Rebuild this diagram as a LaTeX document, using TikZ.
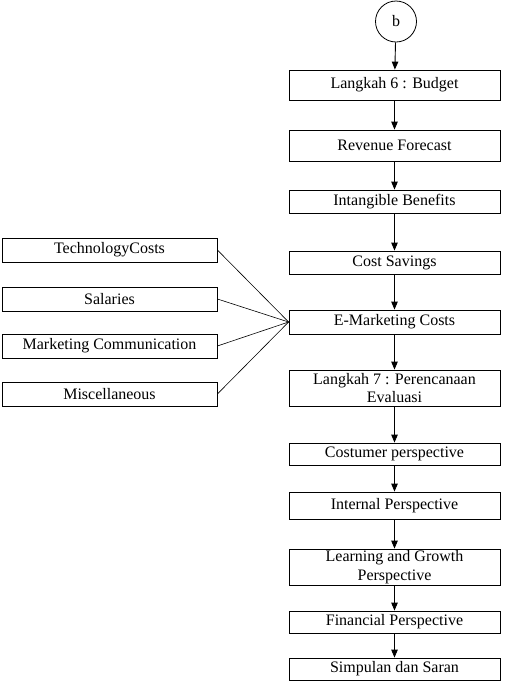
\documentclass[tikz,border=0pt]{standalone}
\usepackage{fontspec}
\setmainfont{Liberation Serif}
\usetikzlibrary{arrows.meta}
\begin{document}
\begin{tikzpicture}[x=1pt,y=-1pt,
  box/.style={draw,line width=0.8pt,inner sep=0pt,minimum width=211pt,align=center,font=\fontsize{16}{18.5}\selectfont},
  lbox/.style={draw,line width=0.8pt,inner sep=0pt,minimum width=215pt,minimum height=24pt,font=\fontsize{16}{18.5}\selectfont},
  arr/.style={line width=0.9pt,-{Triangle[length=8pt,width=6.5pt]}},
  thin/.style={line width=0.6pt}]
\useasboundingbox (0,0) rectangle (506,683);
\node[draw,circle,line width=0.8pt,minimum size=41pt,inner sep=0pt,font=\fontsize{16}{18.5}\selectfont] (c) at (396,21.5) {b};
\node[box,minimum height=30pt] (b1) at (394.5,85) {Langkah 6 : Budget};
\node[box,minimum height=31pt] (b2) at (394.5,145.5) {Revenue Forecast};
\node[box,minimum height=23pt] (b3) at (394.5,201.5) {Intangible Benefits};
\node[box,minimum height=23pt] (b4) at (394.5,262.5) {Cost Savings};
\node[box,minimum height=24pt] (b5) at (394.5,322) {E-Marketing Costs};
\node[box,minimum height=36pt] (b6) at (394.5,388) {Langkah 7 : Perencanaan\\Evaluasi};
\node[box,minimum height=22pt] (b7) at (394.5,454) {Costumer perspective};
\node[box,minimum height=27pt] (b8) at (394.5,505.5) {Internal Perspective};
\node[box,minimum height=36pt] (b9) at (394.5,567) {Learning and Growth\\Perspective};
\node[box,minimum height=22pt] (b10) at (394.5,622) {Financial Perspective};
\node[box,minimum height=22pt] (b11) at (394.5,669) {Simpulan dan Saran};
\node[lbox] (l1) at (109.5,250) {TechnologyCosts};
\node[lbox] (l2) at (109.5,299) {Salaries};
\node[lbox] (l3) at (109.5,346) {Marketing Communication};
\node[lbox] (l4) at (109.5,394) {Miscellaneous};
\draw[arr] (c) -- (b1);
\draw[arr] (b1) -- (b2);
\draw[arr] (b2) -- (b3);
\draw[arr] (b3) -- (b4);
\draw[arr] (b4) -- (b5);
\draw[arr] (b5) -- (b6);
\draw[arr] (b6) -- (b7);
\draw[arr] (b7) -- (b8);
\draw[arr] (b8) -- (b9);
\draw[arr] (b9) -- (b10);
\draw[arr] (b10) -- (b11);
\foreach \n in {l1,l2,l3,l4} \draw[thin] (\n.east) -- (b5.west);
\end{tikzpicture}
\end{document}
